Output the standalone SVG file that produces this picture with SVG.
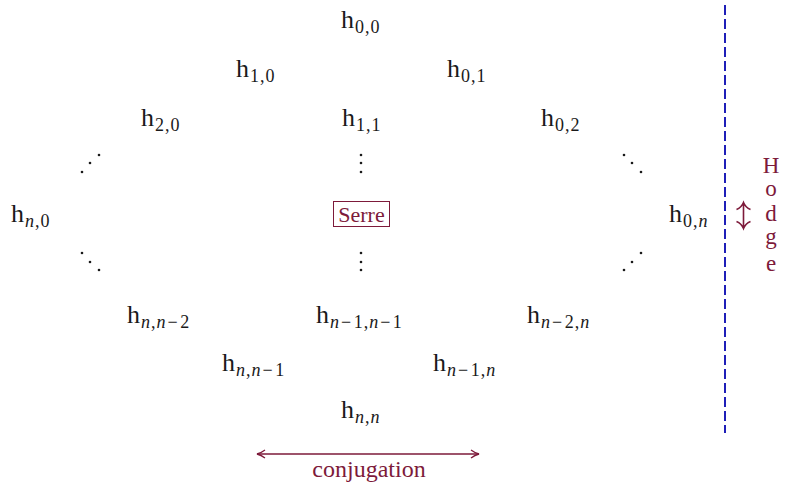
<svg xmlns="http://www.w3.org/2000/svg" width="785" height="488" viewBox="0 0 785 488">
<defs>
<style>
.h{font-family:"Liberation Serif","DejaVu Serif",serif;font-size:26px;fill:#1a1a1a}
.s{font-size:18px;letter-spacing:1px}
.i{font-style:italic}
.m{letter-spacing:2.5px}
.r{font-family:"Liberation Serif","DejaVu Serif",serif;fill:#7d1a3a}
.dot{fill:#1a1a1a}
</style>
<marker id="open" viewBox="0 0 10 10" refX="9" refY="5" markerWidth="10" markerHeight="10" markerUnits="userSpaceOnUse" orient="auto-start-reverse">
<path d="M1,1 Q5,4 9,5 Q5,6 1,9" fill="none" stroke="#7d1a3a" stroke-width="1.3"/>
</marker>
</defs>
<rect width="785" height="488" fill="#ffffff"/>

<g id="h00"><text class="h" x="341" y="28">h<tspan class="s" dx="1" dy="5">0,0</tspan></text></g>
<g id="h10"><text class="h" x="236" y="77">h<tspan class="s" dx="1" dy="5">1,0</tspan></text></g>
<g id="h01"><text class="h" x="447" y="77">h<tspan class="s" dx="1" dy="5">0,1</tspan></text></g>
<g id="h20"><text class="h" x="141" y="126">h<tspan class="s" dx="1" dy="5">2,0</tspan></text></g>
<g id="h11"><text class="h" x="342" y="126">h<tspan class="s" dx="1" dy="5">1,1</tspan></text></g>
<g id="h02"><text class="h" x="541" y="126">h<tspan class="s" dx="1" dy="5">0,2</tspan></text></g>
<g id="hn0"><text class="h" x="11" y="222">h<tspan class="s" dx="1" dy="5"><tspan class="i">n</tspan>,0</tspan></text></g>
<g id="h0n"><text class="h" x="669" y="222">h<tspan class="s" dx="1" dy="5">0,<tspan class="i">n</tspan></tspan></text></g>
<g id="hnn2"><text class="h" x="127" y="323">h<tspan class="s" dx="1" dy="5"><tspan class="i">n</tspan>,<tspan class="i">n</tspan><tspan class="m" dx="1">−</tspan>2</tspan></text></g>
<g id="hn1n1"><text class="h" x="316" y="323">h<tspan class="s" dx="1" dy="5"><tspan class="i">n</tspan><tspan class="m" dx="1">−</tspan>1,<tspan class="i">n</tspan><tspan class="m" dx="1">−</tspan>1</tspan></text></g>
<g id="hn2n"><text class="h" x="527" y="323">h<tspan class="s" dx="1" dy="5"><tspan class="i">n</tspan><tspan class="m" dx="1">−</tspan>2,<tspan class="i">n</tspan></tspan></text></g>
<g id="hnn1"><text class="h" x="222" y="371">h<tspan class="s" dx="1" dy="5"><tspan class="i">n</tspan>,<tspan class="i">n</tspan><tspan class="m" dx="1">−</tspan>1</tspan></text></g>
<g id="hn1n"><text class="h" x="433" y="371">h<tspan class="s" dx="1" dy="5"><tspan class="i">n</tspan><tspan class="m" dx="1">−</tspan>1,<tspan class="i">n</tspan></tspan></text></g>
<g id="hnn"><text class="h" x="341" y="418">h<tspan class="s" dx="1" dy="5"><tspan class="i">n</tspan>,<tspan class="i">n</tspan></tspan></text></g>

<g id="dots-ul"><circle class="dot" cx="82" cy="172" r="1.3"/><circle class="dot" cx="90" cy="163" r="1.3"/><circle class="dot" cx="99" cy="155" r="1.3"/></g>
<g id="dots-uc"><circle class="dot" cx="361" cy="155" r="1.3"/><circle class="dot" cx="361" cy="163" r="1.3"/><circle class="dot" cx="361" cy="172" r="1.3"/></g>
<g id="dots-ur"><circle class="dot" cx="624" cy="155" r="1.3"/><circle class="dot" cx="632" cy="163" r="1.3"/><circle class="dot" cx="641" cy="172" r="1.3"/></g>
<g id="dots-ll"><circle class="dot" cx="82" cy="253" r="1.3"/><circle class="dot" cx="90" cy="262" r="1.3"/><circle class="dot" cx="99" cy="270" r="1.3"/></g>
<g id="dots-lc"><circle class="dot" cx="361" cy="253" r="1.3"/><circle class="dot" cx="361" cy="262" r="1.3"/><circle class="dot" cx="361" cy="270" r="1.3"/></g>
<g id="dots-lr"><circle class="dot" cx="624" cy="270" r="1.3"/><circle class="dot" cx="632" cy="262" r="1.3"/><circle class="dot" cx="641" cy="253" r="1.3"/></g>

<g id="serre">
<rect x="333.5" y="201.5" width="56" height="25" fill="none" stroke="#7d1a3a" stroke-width="1"/>
<text class="r" x="361.5" y="222" font-size="22" text-anchor="middle">Serre</text>
</g>

<g id="connectors">
<line x1="725" y1="5" x2="725" y2="433" stroke="#1f1fb8" stroke-width="2" stroke-dasharray="10,4"/>
<line x1="257" y1="454" x2="479" y2="454" stroke="#7d1a3a" stroke-width="1.3" marker-start="url(#open)" marker-end="url(#open)"/>
<path d="M743.5,203 L743.5,228 M736.5,209.5 Q741.5,207.5 743.5,202.5 Q745.5,207.5 750.5,209.5 M736.5,221.5 Q741.5,223.5 743.5,228.5 Q745.5,223.5 750.5,221.5" fill="none" stroke="#7d1a3a" stroke-width="1.6"/>
</g>

<g id="hodge">
<text class="r" x="771" y="173" font-size="23" text-anchor="middle">H</text>
<text class="r" x="771" y="196" font-size="23" text-anchor="middle">o</text>
<text class="r" x="771" y="221" font-size="23" text-anchor="middle">d</text>
<text class="r" x="771" y="244" font-size="23" text-anchor="middle">g</text>
<text class="r" x="771" y="271" font-size="23" text-anchor="middle">e</text>
</g>
<g id="conj"><text class="r" x="369" y="477" font-size="24" text-anchor="middle">conjugation</text></g>
</svg>
